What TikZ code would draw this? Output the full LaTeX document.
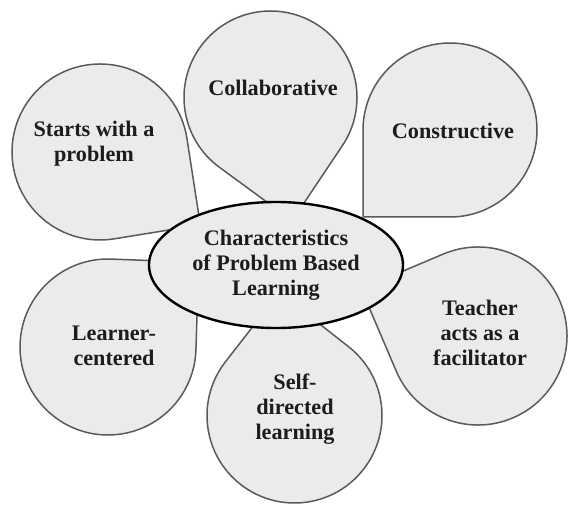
\documentclass[tikz,border=0pt]{standalone}
\usepackage{fontspec}
\setmainfont{Liberation Serif}
\usetikzlibrary{calc,shapes.geometric}

\definecolor{petalfill}{HTML}{EBEBEB}
\definecolor{petalline}{HTML}{5A5A5A}
\definecolor{labeltext}{HTML}{1C1C1C}

\tikzset{
  petalshape/.style={fill=petalfill, draw=petalline, line width=1.5pt, line join=round},
  hubshape/.style={ellipse, fill=petalfill, draw=black, line width=2.4pt,
    minimum width=254pt, minimum height=126pt, inner sep=0pt},
  label/.style={text=labeltext, font=\bfseries\fontsize{22.2}{25}\selectfont,
    align=center, inner sep=0pt},
}

% teardrop: centre x, centre y (measured downwards from the top), radius,
% direction of the tip, distance from the centre to the tip
\newcommand\petal[6]{%
  \pgfmathsetmacro\pbeta{acos(#3/#5)}%
  \pgfmathsetmacro\pstart{#4+\pbeta}%
  \pgfmathsetmacro\pend{#4+360-\pbeta}%
  \coordinate (#6) at (#1,506-#2);
  \draw[petalshape] ($(#6)+(#4:#5)$) -- ($(#6)+(\pstart:#3)$)
    arc[start angle=\pstart, end angle=\pend, radius=#3] -- cycle;
}

\begin{document}
\begin{tikzpicture}[x=1pt,y=1pt]
  \useasboundingbox (0,0) rectangle (569,506);

  % six teardrop petals, tips pointing to the hub
  \petal{270.5}{97.5}{86.5}{-80}{125}{collab}
  \petal{450}{130}{87}{225}{123}{constr}
  \petal{100}{152}{88}{-36}{124}{starts}
  \petal{108}{347}{88}{43}{124}{learner}
  \petal{294.5}{415.5}{87.5}{97}{124}{selfdir}
  \petal{478}{336}{89}{158}{126}{teacher}

  % petal labels
  \node[label] (tcollab)  at (273,506-88)  {Collaborative};
  \node[label] (tconstr)  at (453,506-131) {Constructive};
  \node[label] (tstarts)  at (94,506-144)  {Starts with a\\problem};
  \node[label] (tlearner) at (114,506-346) {Learner-\\centered};
  \node[label] (tselfdir) at (295,506-409) {Self-\\directed\\learning};
  \node[label] (tteacher) at (480,506-333) {Teacher\\acts as a\\facilitator};

  % central hub
  \node[hubshape] (hub) at (276,506-265) {};
  \node[label] (thub) at (hub.center) {Characteristics\\of Problem Based\\Learning};
\end{tikzpicture}
\end{document}
